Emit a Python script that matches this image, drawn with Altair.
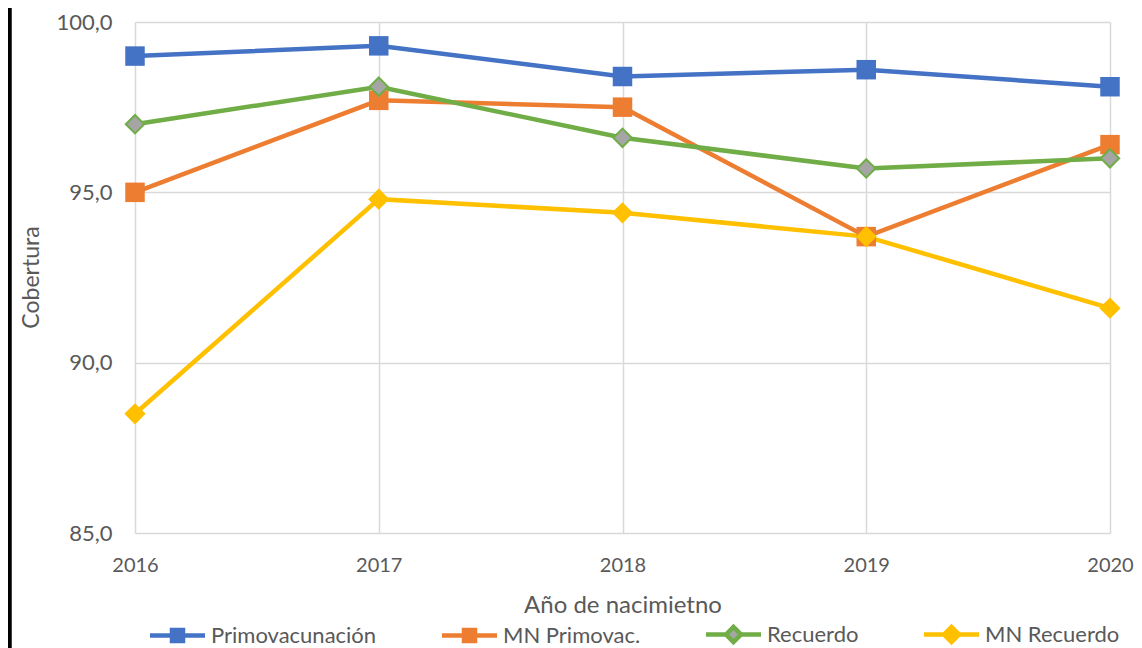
import altair as alt
import pandas as pd

years = [2016, 2017, 2018, 2019, 2020]
series = ["Primovacunación", "MN Primovac.", "Recuerdo", "MN Recuerdo"]
primo = [99.0, 99.3, 98.4, 98.6, 98.1]
mn_primo = [95.0, 97.7, 97.5, 93.7, 96.4]
recuerdo = [97.0, 98.1, 96.6, 95.7, 96.0]
mn_recuerdo = [88.5, 94.8, 94.4, 93.7, 91.6]
y_ticks = [85, 90, 95, 100]

line_colors = ["#4472C4", "#ED7D31", "#70AD47", "#FFC000"]
fill_colors = ["#4472C4", "#ED7D31", "#A5A5A5", "#FFC000"]

rows = []
for name, vals in zip(series, [primo, mn_primo, recuerdo, mn_recuerdo]):
    for yr, v in zip(years, vals):
        rows.append({"year": yr, "serie": name, "value": v})
df = pd.DataFrame(rows)

FONT = "Lato"
TXT = "#595959"

x_enc = alt.X("year:Q",
              scale=alt.Scale(domain=[2016, 2020], nice=False, zero=False),
              axis=alt.Axis(values=years, format="d", title="Año de nacimietno",
                            labelFlush=False, domain=False, tickSize=0, ticks=False,
                            labelPadding=22, titleY=72, titleBaseline="middle",
                            labelFont=FONT, labelFontSize=20, labelColor=TXT,
                            titleFont=FONT, titleFontSize=24, titleColor=TXT,
                            titleFontWeight="normal",
                            gridColor="#D9D9D9", gridWidth=1.5))
y_enc = alt.Y("value:Q",
              scale=alt.Scale(domain=[85, 100], nice=False, zero=False),
              axis=alt.Axis(values=y_ticks, title="Cobertura",
                            labelExpr="replace(format(datum.value, '.1f'), '.', ',')",
                            labelFlush=False, domain=False, tickSize=0, ticks=False,
                            labelPadding=23, titleX=-92, titleY=255,
                            labelFont=FONT, labelFontSize=22, labelColor=TXT,
                            titleFont=FONT, titleFontSize=23, titleColor=TXT,
                            titleFontWeight="normal",
                            gridColor="#D9D9D9", gridWidth=1.5))

stroke_scale = alt.Scale(domain=series, range=line_colors)
fill_scale = alt.Scale(domain=series, range=fill_colors)

base = alt.Chart(df)

lines = base.mark_line(strokeWidth=4.5).encode(
    x=x_enc, y=y_enc,
    stroke=alt.Stroke("serie:N", scale=stroke_scale, legend=None),
    order="year:Q",
)

squares = base.transform_filter(
    alt.FieldOneOfPredicate(field="serie", oneOf=series[:2])
).mark_point(shape="square", size=380, filled=True, opacity=1, strokeWidth=0).encode(
    x=x_enc, y=y_enc,
    fill=alt.Fill("serie:N", scale=fill_scale, legend=None),
)

diamonds = base.transform_filter(
    alt.FieldOneOfPredicate(field="serie", oneOf=series[2:])
).mark_point(shape="diamond", size=340, filled=True, opacity=1, strokeWidth=2).encode(
    x=x_enc, y=y_enc,
    fill=alt.Fill("serie:N", scale=fill_scale, legend=None),
    stroke=alt.Stroke("serie:N", scale=stroke_scale, legend=None),
)

sq_path = "M-2.75,0H-0.55M0.55,0H2.75M-0.55,-0.55H0.55V0.55H-0.55Z"
dm_path = "M-2.75,0H-0.75M0.75,0H2.75M-0.75,0L0,-0.75L0.75,0L0,0.75Z"
shape_scale = alt.Scale(domain=series, range=[sq_path, sq_path, dm_path, dm_path])

leg = alt.Legend(title=None, orient="none", legendX=30, legendY=600,
                 direction="horizontal", columns=4, columnPadding=56,
                 labelOffset=21, symbolSize=400, symbolStrokeWidth=4.5,
                 labelFont=FONT, labelFontSize=22, labelColor=TXT, padding=0,
                 labelLimit=400, symbolOpacity=1)

legend_layer = base.transform_filter("false").mark_point(
    size=400, filled=True, strokeWidth=4.5, opacity=1
).encode(
    x=x_enc, y=y_enc,
    shape=alt.Shape("serie:N", scale=shape_scale, legend=leg),
    fill=alt.Fill("serie:N", scale=fill_scale, legend=leg),
    stroke=alt.Stroke("serie:N", scale=stroke_scale, legend=leg),
)

bar = alt.Chart(pd.DataFrame({"a": [0]})).mark_rule(color="black", strokeWidth=4.5).encode(
    x=alt.value(-125.5), y=alt.value(-14), y2=alt.value(626)
)

chart = alt.layer(lines, squares, diamonds, legend_layer, bar).resolve_scale(
    stroke="independent", fill="independent", shape="independent"
).resolve_legend(
    stroke="independent", fill="independent", shape="independent"
).properties(
    width=975, height=511,
    autosize=alt.AutoSizeParams(type="none"),
    padding={"left": 127, "top": 14, "right": 24, "bottom": 115},
).configure_view(stroke=None)

chart.save("out.html", embed_options={"renderer": "svg", "actions": False})
